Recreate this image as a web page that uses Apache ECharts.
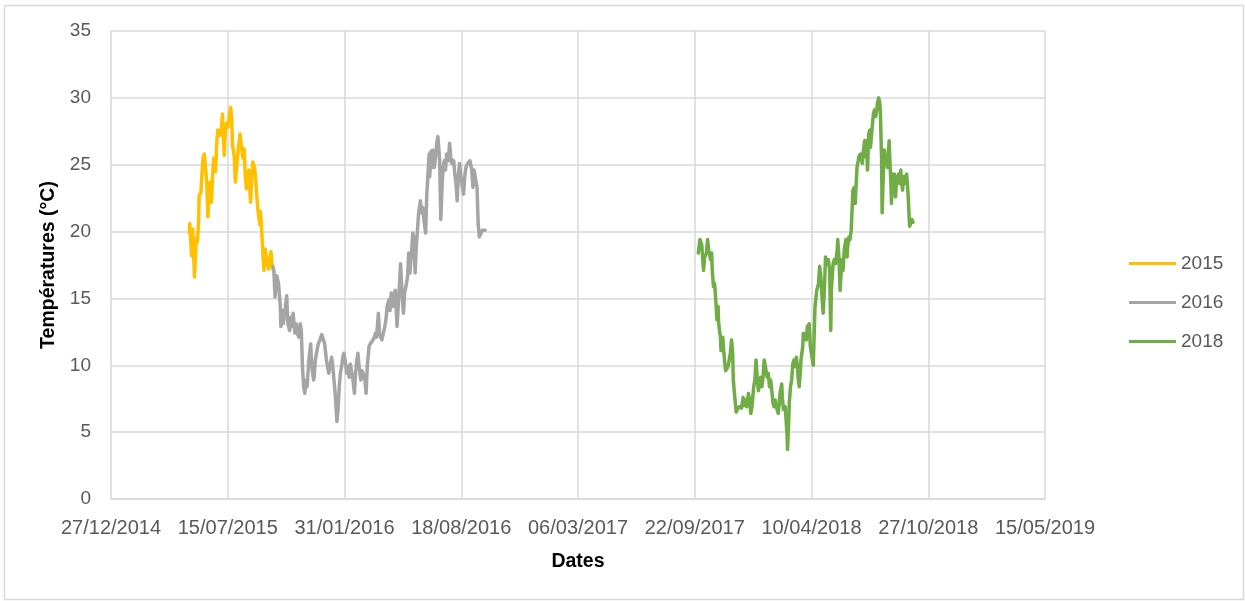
<!DOCTYPE html>
<html>
<head>
<meta charset="utf-8">
<script src="https://cdn.jsdelivr.net/npm/echarts@6/dist/echarts.min.js"></script>
<style>
  html, body { margin: 0; padding: 0; background: #fff; }
  #chart { width: 1245px; height: 601px; }
</style>
</head>
<body>
<div id="chart"></div>
<script>
// x axis ticks every 200 days from 27/12/2014
const xTickLabels = ['27/12/2014', '15/07/2015', '31/01/2016', '18/08/2016', '06/03/2017',
  '22/09/2017', '10/04/2018', '27/10/2018', '15/05/2019']
const seriesNames = ['2015', '2016', '2018']

const dates2015 = [
  '2015-05-10', '2015-05-11', '2015-05-14', '2015-05-16', '2015-05-19', '2015-05-22', '2015-05-24', '2015-05-26', '2015-05-27', '2015-05-30',
  '2015-06-01', '2015-06-03', '2015-06-05', '2015-06-07', '2015-06-09', '2015-06-11', '2015-06-13', '2015-06-15', '2015-06-17', '2015-06-19',
  '2015-06-21', '2015-06-24', '2015-06-26', '2015-06-28', '2015-06-30', '2015-07-02', '2015-07-04', '2015-07-06', '2015-07-07', '2015-07-09',
  '2015-07-11', '2015-07-13', '2015-07-15', '2015-07-18', '2015-07-20', '2015-07-22', '2015-07-23', '2015-07-26', '2015-07-28', '2015-07-30',
  '2015-08-02', '2015-08-05', '2015-08-07', '2015-08-10', '2015-08-12', '2015-08-14', '2015-08-16', '2015-08-19', '2015-08-20', '2015-08-23',
  '2015-08-25', '2015-08-27', '2015-08-30', '2015-09-01', '2015-09-03', '2015-09-05', '2015-09-08', '2015-09-09', '2015-09-11', '2015-09-13',
  '2015-09-15', '2015-09-17', '2015-09-20', '2015-09-23', '2015-09-25', '2015-09-27', '2015-09-29', '2015-10-01'
]
const temps2015 = [
  19.9, 20.6, 18.2, 20.2, 16.6, 19.5, 19.2, 20.7, 22.7, 22.9,
  24.5, 25.6, 25.8, 24.7, 23.7, 21.1, 23.0, 23.7, 22.2, 24.2,
  25.5, 24.5, 26.5, 27.6, 27.7, 27.2, 27.7, 28.8, 27.5, 25.7,
  27.7, 28.1, 27.8, 28.7, 29.3, 28.2, 26.5, 25.7, 23.7, 24.7,
  26.2, 27.3, 26.5, 25.5, 26.2, 24.2, 23.2, 24.0, 24.6, 22.2,
  24.0, 25.2, 24.8, 23.7, 22.5, 21.5, 20.5, 21.5, 20.2, 18.5,
  17.1, 18.7, 17.7, 17.2, 18.0, 18.5, 17.5, 17.1
]

const dates2016 = [
  '2015-09-30', '2015-10-02', '2015-10-04', '2015-10-07', '2015-10-10', '2015-10-13', '2015-10-14', '2015-10-17', '2015-10-18', '2015-10-21',
  '2015-10-24', '2015-10-26', '2015-10-29', '2015-10-31', '2015-11-02', '2015-11-04', '2015-11-07', '2015-11-09', '2015-11-11', '2015-11-14',
  '2015-11-16', '2015-11-18', '2015-11-20', '2015-11-22', '2015-11-24', '2015-11-26', '2015-11-28', '2015-12-01', '2015-12-04', '2015-12-06',
  '2015-12-09', '2015-12-10', '2015-12-12', '2015-12-14', '2015-12-17', '2015-12-20', '2015-12-23', '2015-12-26', '2015-12-28', '2015-12-31',
  '2016-01-02', '2016-01-04', '2016-01-06', '2016-01-09', '2016-01-11', '2016-01-13', '2016-01-15', '2016-01-18', '2016-01-20', '2016-01-22',
  '2016-01-24', '2016-01-26', '2016-01-28', '2016-01-30', '2016-02-01', '2016-02-04', '2016-02-06', '2016-02-08', '2016-02-10', '2016-02-12',
  '2016-02-14', '2016-02-17', '2016-02-19', '2016-02-21', '2016-02-23', '2016-02-25', '2016-02-28', '2016-03-01', '2016-03-03', '2016-03-06',
  '2016-03-08', '2016-03-10', '2016-03-13', '2016-03-15', '2016-03-20', '2016-03-22', '2016-03-24', '2016-03-26', '2016-03-29', '2016-03-31',
  '2016-04-02', '2016-04-04', '2016-04-07', '2016-04-09', '2016-04-11', '2016-04-13', '2016-04-16', '2016-04-18', '2016-04-20', '2016-04-23',
  '2016-04-25', '2016-04-27', '2016-04-30', '2016-05-02', '2016-05-04', '2016-05-06', '2016-05-09', '2016-05-11', '2016-05-13', '2016-05-16',
  '2016-05-18', '2016-05-20', '2016-05-22', '2016-05-25', '2016-05-27', '2016-05-29', '2016-05-31', '2016-06-02', '2016-06-04', '2016-06-06',
  '2016-06-09', '2016-06-11', '2016-06-13', '2016-06-15', '2016-06-18', '2016-06-20', '2016-06-22', '2016-06-24', '2016-06-25', '2016-06-27',
  '2016-06-29', '2016-06-30', '2016-07-03', '2016-07-05', '2016-07-07', '2016-07-09', '2016-07-12', '2016-07-14', '2016-07-16', '2016-07-18',
  '2016-07-20', '2016-07-22', '2016-07-24', '2016-07-27', '2016-07-29', '2016-07-31', '2016-08-02', '2016-08-05', '2016-08-07', '2016-08-09',
  '2016-08-11', '2016-08-13', '2016-08-15', '2016-08-17', '2016-08-20', '2016-08-22', '2016-08-24', '2016-08-26', '2016-08-29', '2016-08-31',
  '2016-09-02', '2016-09-05', '2016-09-07', '2016-09-09', '2016-09-11', '2016-09-14', '2016-09-16', '2016-09-18', '2016-09-21', '2016-09-23',
  '2016-09-25', '2016-09-28'
]
const temps2016 = [
  17.4, 17.1, 15.1, 16.7, 16.1, 14.4, 12.9, 14.1, 13.1, 14.1,
  15.2, 13.1, 12.6, 13.6, 12.9, 13.9, 12.4, 13.1, 12.4, 12.1,
  13.1, 12.6, 9.9, 8.4, 7.9, 8.9, 8.4, 10.4, 11.6, 9.9,
  8.9, 9.1, 10.4, 10.9, 11.6, 11.9, 12.3, 12.4, 11.6, 10.4,
  9.9, 9.4, 9.9, 10.6, 9.9, 8.9, 7.9, 5.8, 6.7, 8.4,
  9.4, 9.9, 10.6, 10.9, 10.4, 9.4, 9.9, 9.1, 10.1, 9.6,
  9.1, 7.9, 9.4, 10.4, 10.9, 9.9, 8.9, 9.6, 9.4, 8.9,
  7.9, 9.9, 11.4, 11.6, 11.9, 12.1, 12.4, 12.1, 13.9, 12.4,
  12.1, 11.9, 11.9, 12.9, 13.4, 14.4, 14.9, 14.1, 15.4, 14.4,
  15.4, 15.6, 12.9, 14.4, 15.9, 17.6, 15.1, 13.9, 15.4, 16.1,
  16.6, 18.4, 16.9, 18.6, 19.9, 19.4, 16.9, 18.9, 20.1, 21.4,
  22.3, 21.4, 21.8, 20.9, 19.9, 22.8, 24.3, 25.8, 24.1, 26.0,
  24.8, 26.1, 24.8, 25.6, 26.6, 27.1, 25.3, 20.9, 23.3, 24.8,
  25.3, 24.6, 25.8, 25.3, 26.6, 25.6, 25.1, 25.3, 24.3, 23.6,
  22.3, 24.1, 25.1, 24.3, 23.3, 22.8, 24.1, 24.8, 25.1, 25.2,
  25.3, 24.6, 23.3, 24.6, 24.7, 23.3, 20.6, 19.6, 19.9, 20.1,
  20.2, 20.1
]

const dates2018 = [
  '2017-09-28', '2017-10-01', '2017-10-04', '2017-10-07', '2017-10-09', '2017-10-12', '2017-10-14', '2017-10-16', '2017-10-19', '2017-10-21',
  '2017-10-22', '2017-10-24', '2017-10-26', '2017-10-28', '2017-10-30', '2017-11-01', '2017-11-02', '2017-11-05', '2017-11-06', '2017-11-09',
  '2017-11-10', '2017-11-13', '2017-11-14', '2017-11-16', '2017-11-18', '2017-11-20', '2017-11-22', '2017-11-24', '2017-11-26', '2017-11-27',
  '2017-11-30', '2017-12-02', '2017-12-04', '2017-12-07', '2017-12-09', '2017-12-11', '2017-12-14', '2017-12-16', '2017-12-18', '2017-12-20',
  '2017-12-23', '2017-12-25', '2017-12-27', '2017-12-29', '2018-01-01', '2018-01-03', '2018-01-05', '2018-01-07', '2018-01-09', '2018-01-12',
  '2018-01-13', '2018-01-15', '2018-01-17', '2018-01-19', '2018-01-21', '2018-01-24', '2018-01-26', '2018-01-28', '2018-01-30', '2018-02-01',
  '2018-02-03', '2018-02-05', '2018-02-07', '2018-02-10', '2018-02-12', '2018-02-14', '2018-02-15', '2018-02-18', '2018-02-19', '2018-02-21',
  '2018-02-24', '2018-02-25', '2018-02-27', '2018-02-28', '2018-03-02', '2018-03-03', '2018-03-05', '2018-03-07', '2018-03-09', '2018-03-11',
  '2018-03-13', '2018-03-15', '2018-03-17', '2018-03-18', '2018-03-20', '2018-03-22', '2018-03-23', '2018-03-26', '2018-03-27', '2018-03-30',
  '2018-04-01', '2018-04-03', '2018-04-06', '2018-04-08', '2018-04-13', '2018-04-16', '2018-04-19', '2018-04-22', '2018-04-24', '2018-04-26',
  '2018-04-28', '2018-04-30', '2018-05-02', '2018-05-04', '2018-05-07', '2018-05-09', '2018-05-11', '2018-05-13', '2018-05-14', '2018-05-17',
  '2018-05-19', '2018-05-21', '2018-05-24', '2018-05-25', '2018-05-27', '2018-05-29', '2018-05-31', '2018-06-01', '2018-06-03', '2018-06-05',
  '2018-06-06', '2018-06-08', '2018-06-10', '2018-06-11', '2018-06-13', '2018-06-15', '2018-06-17', '2018-06-18', '2018-06-20', '2018-06-22',
  '2018-06-24', '2018-06-25', '2018-06-27', '2018-06-29', '2018-06-30', '2018-07-03', '2018-07-04', '2018-07-06', '2018-07-08', '2018-07-10',
  '2018-07-11', '2018-07-13', '2018-07-15', '2018-07-17', '2018-07-19', '2018-07-20', '2018-07-22', '2018-07-24', '2018-07-25', '2018-07-27',
  '2018-07-29', '2018-07-31', '2018-08-01', '2018-08-03', '2018-08-05', '2018-08-06', '2018-08-08', '2018-08-09', '2018-08-11', '2018-08-13',
  '2018-08-14', '2018-08-16', '2018-08-18', '2018-08-20', '2018-08-21', '2018-08-22', '2018-08-24', '2018-08-25', '2018-08-27', '2018-08-29',
  '2018-08-30', '2018-09-01', '2018-09-03', '2018-09-05', '2018-09-06', '2018-09-08', '2018-09-10', '2018-09-11', '2018-09-13', '2018-09-15',
  '2018-09-17', '2018-09-18', '2018-09-20', '2018-09-22', '2018-09-23', '2018-09-25', '2018-09-27', '2018-09-29', '2018-10-01'
]
const temps2018 = [
  18.4, 19.4, 19.0, 17.1, 18.1, 18.4, 19.4, 18.6, 17.9, 18.4,
  17.1, 15.9, 16.1, 14.9, 13.4, 14.4, 13.1, 12.1, 11.1, 12.1,
  11.4, 9.9, 9.6, 9.6, 9.9, 10.4, 10.9, 11.9, 10.9, 8.9,
  7.4, 6.5, 6.7, 6.9, 7.0, 6.8, 7.6, 7.0, 7.4, 6.9,
  7.9, 7.4, 6.4, 6.9, 8.4, 8.9, 10.4, 9.1, 8.1, 8.9,
  9.1, 8.4, 9.1, 10.4, 9.9, 9.1, 9.4, 8.4, 8.9, 8.1,
  7.2, 6.9, 7.4, 6.7, 6.4, 7.2, 7.9, 8.6, 7.6, 6.7,
  6.9, 6.2, 4.9, 3.7, 5.9, 7.2, 8.4, 8.9, 10.1, 10.4,
  9.9, 10.6, 9.9, 9.1, 8.4, 9.6, 10.4, 11.4, 12.4, 12.4,
  11.9, 12.9, 13.1, 11.4, 10.0, 14.4, 15.6, 16.1, 17.4, 16.6,
  15.1, 13.9, 15.6, 18.1, 17.6, 17.9, 17.1, 12.6, 15.6, 17.6,
  17.9, 17.6, 18.6, 19.4, 18.1, 15.6, 17.1, 17.9, 17.1, 18.6,
  18.9, 19.4, 18.1, 18.9, 19.6, 19.4, 20.1, 21.1, 23.1, 23.3,
  22.1, 23.1, 24.8, 25.3, 25.6, 25.8, 25.6, 25.1, 26.1, 26.8,
  25.6, 26.8, 24.6, 27.3, 27.6, 26.3, 27.3, 28.3, 28.8, 29.1,
  28.6, 29.2, 29.6, 30.0, 29.6, 28.8, 25.6, 21.4, 24.3, 26.1,
  25.3, 25.6, 24.8, 26.1, 26.8, 25.6, 23.6, 22.1, 24.3, 23.3,
  24.3, 22.6, 24.1, 23.8, 24.3, 23.6, 24.6, 23.8, 23.1, 24.1,
  23.6, 24.1, 24.3, 23.1, 22.3, 20.4, 20.6, 20.9, 20.7
]

const FONT = 'Liberation Sans'
const base = Date.UTC(2014, 11, 27)
const dayOf = (s) => {
  const [y, m, d] = s.split('-').map(Number)
  return (Date.UTC(y, m - 1, d) - base) / 86400000
}
const toPoints = (dates, temps) => dates.map((d, i) => [dayOf(d), temps[i]])

const makeSeries = (name, color, dates, temps) => ({
  name,
  type: 'line',
  symbol: 'none',
  lineStyle: { width: 3.5, color, join: 'round', cap: 'round' },
  itemStyle: { color },
  data: toPoints(dates, temps)
})

const myChart = echarts.init(document.getElementById('chart'))

let option = {
  animation: false,
  backgroundColor: '#fff',
  textStyle: { fontFamily: FONT },
  grid: { left: 111, right: 200, top: 31, bottom: 102 },
  graphic: [
    {
      type: 'rect',
      shape: { x: 4.5, y: 5.5, width: 1239, height: 594 },
      style: { fill: 'none', stroke: '#d9d9d9', lineWidth: 1.5 },
      silent: true
    }
  ],
  legend: {
    orient: 'vertical',
    left: 1129,
    top: 254,
    padding: 0,
    icon: 'rect',
    itemWidth: 47,
    itemHeight: 3,
    itemGap: 20,
    data: seriesNames,
    textStyle: { color: '#595959', fontSize: 19, fontFamily: FONT }
  },
  xAxis: {
    type: 'value',
    min: 0,
    max: 1600,
    interval: 200,
    name: 'Dates',
    nameLocation: 'middle',
    nameGap: 53,
    nameTextStyle: { color: '#000', fontSize: 19.5, fontWeight: 'bold', fontFamily: FONT },
    axisLine: { show: true, lineStyle: { color: '#d9d9d9', width: 1.5 } },
    axisTick: { show: false },
    splitLine: { show: true, lineStyle: { color: '#d9d9d9', width: 1.5 } },
    axisLabel: {
      color: '#595959',
      fontSize: 20,
      margin: 19,
      formatter: (v) => xTickLabels[Math.round(v / 200)]
    }
  },
  yAxis: {
    type: 'value',
    min: 0,
    max: 35,
    interval: 5,
    name: 'Températures (°C)',
    nameLocation: 'middle',
    nameGap: 49,
    nameTextStyle: { color: '#000', fontSize: 19.5, fontWeight: 'bold', fontFamily: FONT },
    axisLine: { show: false },
    axisTick: { show: false },
    splitLine: { show: true, lineStyle: { color: '#d9d9d9', width: 1.5 } },
    axisLabel: { color: '#595959', fontSize: 19, margin: 20 }
  },
  series: [
    makeSeries(seriesNames[0], '#ffc000', dates2015, temps2015),
    makeSeries(seriesNames[1], '#a5a5a5', dates2016, temps2016),
    makeSeries(seriesNames[2], '#70ad47', dates2018, temps2018)
  ]
}
myChart.setOption(option)
</script>
</body>
</html>
